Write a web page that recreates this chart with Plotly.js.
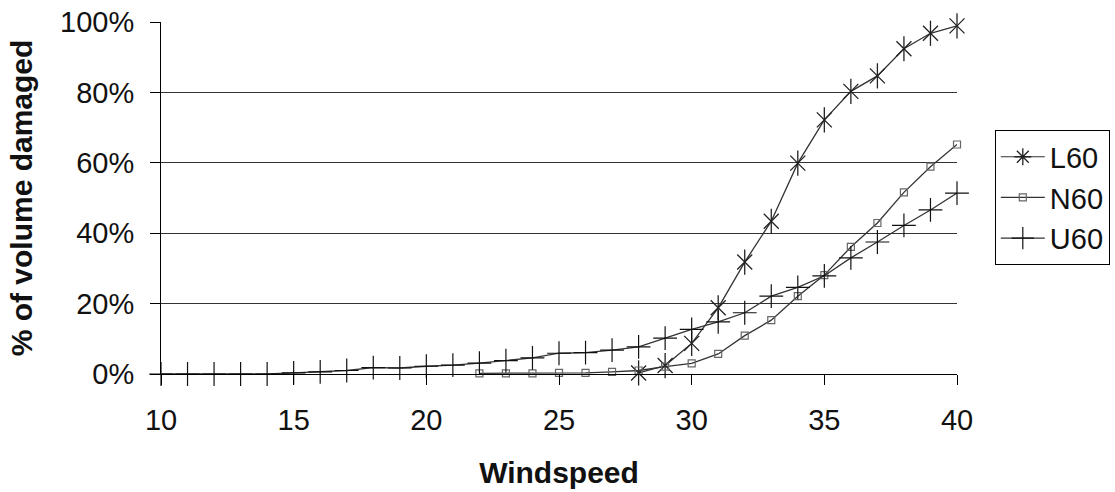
<!DOCTYPE html>
<html>
<head>
<meta charset="utf-8">
<script src="https://cdn.plot.ly/plotly-3.0.1.min.js"></script>
<style>html,body{margin:0;padding:0;background:#fff;}#chart{width:1115px;height:492px;}</style>
</head>
<body>
<div id="chart"></div>
<script>
// Windspeed values per series
const xL60 = [28,29,30,31,32,33,34,35,36,37,38,39,40];
const yL60 = [0.3,2.4,8.7,18.8,31.8,43.4,59.9,72.2,80.3,84.7,92.4,96.8,98.9];

const xN60 = [22,23,24,25,26,27,28,29,30,31,32,33,34,35,36,37,38,39,40];
const yN60 = [0.2,0.2,0.2,0.3,0.3,0.6,1.0,2.1,3.0,5.7,10.9,15.3,22.1,28.1,36.1,42.9,51.6,58.9,65.2];

const xU60 = [10,11,12,13,14,15,16,17,18,19,20,21,22,23,24,25,26,27,28,29,30,31,32,33,34,35,36,37,38,39,40];
const yU60 = [0,0,0,0,0,0.3,0.6,1.0,1.8,1.7,2.2,2.5,3.1,3.8,4.6,5.9,6.1,6.8,7.7,10.2,12.7,14.8,17.4,22.1,24.6,27.9,33.0,37.5,42.2,46.6,51.4];

const seriesNames = ['L60','N60','U60'];
const xTickVals = [10,15,20,25,30,35,40];
const yTickVals = [0,20,40,60,80,100];

const FONT = '"Liberation Sans", Arial, sans-serif';
const lineCol = '#333333';

const traces = [
  // L60: six-armed star = x + vertical bar
  {x:xL60, y:yL60, mode:'lines+markers', name:seriesNames[0], showlegend:false,
   line:{color:lineCol,width:1.3}, marker:{symbol:'x-thin-open',size:15,color:'#222',line:{width:1.3,color:'#222'}}, cliponaxis:false},
  {x:xL60, y:yL60, mode:'markers', name:seriesNames[0], showlegend:false,
   marker:{symbol:'line-ns-open',size:18,color:'#222',line:{width:1.3,color:'#222'}}, cliponaxis:false},
  {x:xN60, y:yN60, mode:'lines+markers', name:seriesNames[1], showlegend:false,
   line:{color:lineCol,width:1.3}, marker:{symbol:'square-open',size:7,color:'#666',line:{width:1.2,color:'#666'}}, cliponaxis:false},
  {x:xU60, y:yU60, mode:'lines+markers', name:seriesNames[2], showlegend:false,
   line:{color:lineCol,width:1.3}, marker:{symbol:'cross-thin-open',size:17,color:'#111',line:{width:1.2,color:'#111'}}, cliponaxis:false},
  // legend entries
  {x:[null], y:[null], mode:'lines+markers', name:seriesNames[0], showlegend:true,
   line:{color:lineCol,width:1.2}, marker:{symbol:'asterisk-open',size:14,color:'#222',line:{width:1.3,color:'#222'}}},
  {x:[null], y:[null], mode:'lines+markers', name:seriesNames[1], showlegend:true,
   line:{color:lineCol,width:1.2}, marker:{symbol:'square-open',size:7,color:'#666',line:{width:1.2,color:'#666'}}},
  {x:[null], y:[null], mode:'lines+markers', name:seriesNames[2], showlegend:true,
   line:{color:lineCol,width:1.2}, marker:{symbol:'cross-thin-open',size:17,color:'#111',line:{width:1.2,color:'#111'}}}
];

const layout = {
  width:1115, height:492,
  margin:{l:161, r:158, t:22, b:118, autoexpand:false},
  paper_bgcolor:'#fff', plot_bgcolor:'#fff',
  font:{family:FONT, color:'#111', size:29},
  showlegend:true,
  legend:{x:1.0475, xanchor:'left', y:0.692, yanchor:'top',
    bordercolor:'#000', borderwidth:1, bgcolor:'#fff',
    font:{family:FONT, size:29, color:'#111'}, itemwidth:44, tracegroupgap:0},
  xaxis:{range:[10,40], tickvals:xTickVals, ticktext:xTickVals.map(String),
    showgrid:false, zeroline:false, showline:true, linecolor:'#000', linewidth:1,
    ticks:'outside', ticklen:10, tickcolor:'#000', tickwidth:1, ticklabelstandoff:10,
    tickfont:{family:FONT, size:29, color:'#111'},
    title:{text:'<b>Windspeed</b>', font:{family:FONT, size:30, color:'#111'}, standoff:27}, automargin:false},
  yaxis:{range:[0,100], tickvals:yTickVals, ticktext:yTickVals.map(v=>v+'%'),
    showgrid:true, gridcolor:'#333', gridwidth:1, zeroline:false,
    showline:true, linecolor:'#000', linewidth:1,
    ticks:'outside', ticklen:10, tickcolor:'#000', tickwidth:1, ticklabelstandoff:10,
    tickfont:{family:FONT, size:29, color:'#111'},
    title:{text:'<b>% of volume damaged</b>', font:{family:FONT, size:30, color:'#111'}, standoff:18}, automargin:false}
};

Plotly.newPlot('chart', traces, layout, {staticPlot:true, displayModeBar:false});
</script>
</body>
</html>
